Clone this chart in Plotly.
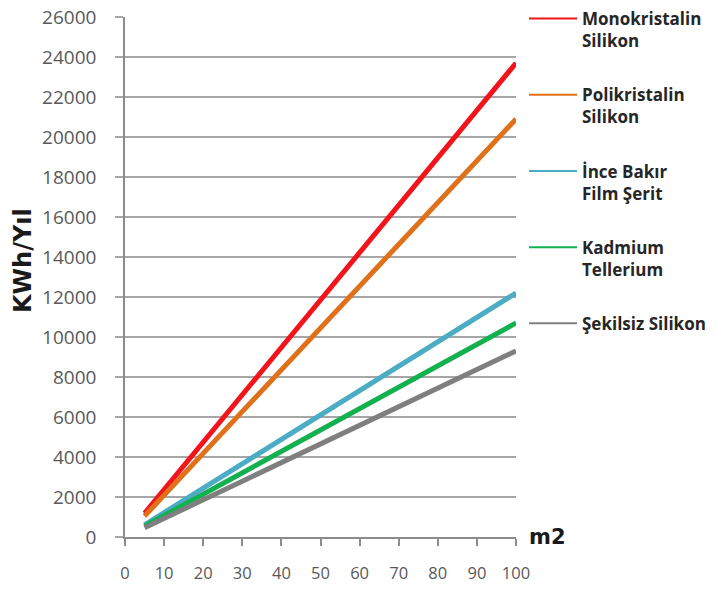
import plotly.graph_objects as go

area_m2 = [5, 10, 20, 30, 40, 50, 60, 70, 80, 90, 100]

monokristalin = [1185, 2370, 4740, 7110, 9480, 11850, 14220, 16590, 18960, 21330, 23700]
polikristalin = [1045, 2090, 4180, 6270, 8360, 10450, 12540, 14630, 16720, 18810, 20900]
ince_bakir = [610, 1220, 2440, 3660, 4880, 6100, 7320, 8540, 9760, 10980, 12200]
kadmium = [535, 1070, 2140, 3210, 4280, 5350, 6420, 7490, 8560, 9630, 10700]
sekilsiz = [465, 930, 1860, 2790, 3720, 4650, 5580, 6510, 7440, 8370, 9300]

series_names = ["Monokristalin<br>Silikon", "Polikristalin<br>Silikon",
                "İnce Bakır<br>Film Şerit", "Kadmium<br>Tellerium", "Şekilsiz Silikon"]
series_values = [monokristalin, polikristalin, ince_bakir, kadmium, sekilsiz]
series_colors = ["#F2131B", "#E0701A", "#4BACC6", "#12B04F", "#7F7F7F"]

x_ticks = [0, 10, 20, 30, 40, 50, 60, 70, 80, 90, 100]
y_ticks = list(range(0, 26001, 2000))

W, H = 716, 591
L, R, T, B = 125, 200, 17, 54

fig = go.Figure()
for i, (name, vals, col) in enumerate(zip(series_names, series_values, series_colors)):
    # thick data line
    fig.add_trace(go.Scatter(x=area_m2, y=vals, mode="lines", name=name,
                             legendgroup=f"g{i}", showlegend=False,
                             line=dict(color=col, width=5)))
    # thin legend key for the same series
    fig.add_trace(go.Scatter(x=[None], y=[None], mode="lines", name=name,
                             legendgroup=f"g{i}", showlegend=True,
                             line=dict(color=col, width=2)))

plot_w = W - L - R
plot_h = H - T - B

fig.update_layout(
    width=W, height=H,
    margin=dict(l=L, r=R, t=T, b=B, autoexpand=False),
    paper_bgcolor="white", plot_bgcolor="white",
    font=dict(family="Open Sans, sans-serif", color="#595959", size=18),
    showlegend=True,
    legend=dict(xref="container", yref="container",
                x=524 / W, y=1 - 1 / H, xanchor="left", yanchor="top",
                valign="top", tracegroupgap=29, itemwidth=48,
                maxheight=H,
                font=dict(family="Open Sans, sans-serif", size=17, color="#262626",
                          weight="bold"),
                bgcolor="rgba(0,0,0,0)"),
    xaxis=dict(range=[0, 100], tickvals=x_ticks, showgrid=False, automargin=False,
               showline=True, linecolor="#8C8C8C", linewidth=1.5,
               ticks="outside", ticklen=7, tickcolor="#8C8C8C", tickwidth=1.5,
               tickfont=dict(size=16.5),
               ticklabelstandoff=13, zeroline=False),
    yaxis=dict(range=[0, 26000], tickvals=y_ticks, tickformat="d", showgrid=True,
               automargin=False,
               gridcolor="#A6A6A6", gridwidth=1.5,
               showline=True, linecolor="#8C8C8C", linewidth=1.5,
               ticks="outside", ticklen=8, tickcolor="#A6A6A6", tickwidth=1.5,
               tickfont=dict(size=19),
               ticklabelstandoff=15, zeroline=False),
    annotations=[
        dict(text="<b>KWh/Yıl</b>", x=(23 - L) / plot_w, y=(H - B - 261) / plot_h,
             xref="paper", yref="paper", xanchor="center", yanchor="middle",
             showarrow=False, textangle=-90,
             font=dict(family="DejaVu Sans, sans-serif", size=24, color="#1a1a1a")),
        dict(text="<b>m2</b>", x=(527 - L) / plot_w, y=0, xref="paper", yref="paper",
             xanchor="left", yanchor="middle", showarrow=False,
             font=dict(family="DejaVu Sans, sans-serif", size=21, color="#1a1a1a")),
    ],
)

fig.write_html("out.html", config={"displayModeBar": False},
               post_script="document.body.style.margin='0';")
